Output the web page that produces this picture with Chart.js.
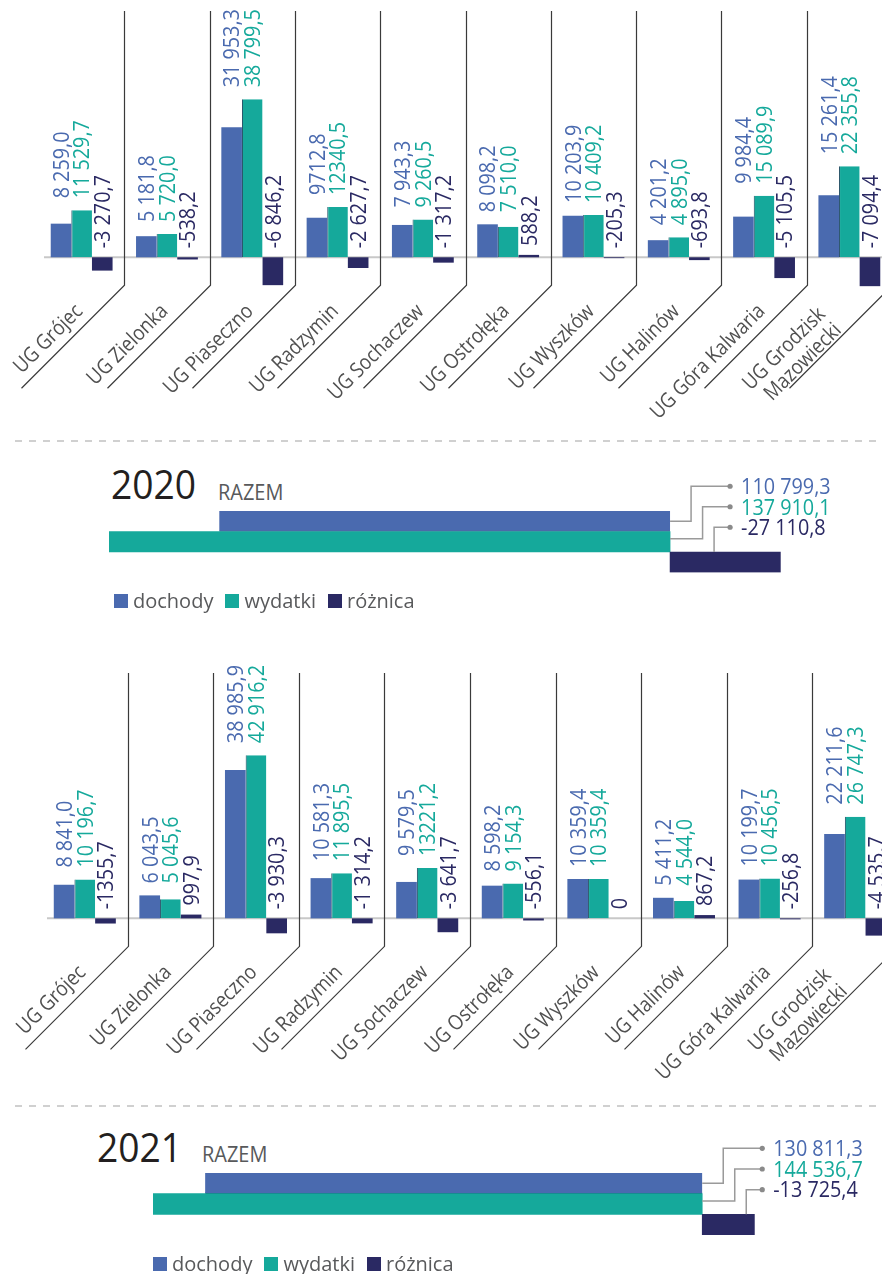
<!DOCTYPE html>
<html lang="pl">
<head>
<meta charset="utf-8">
<title>Dochody i wydatki UG 2020–2021</title>
<script src="https://cdn.jsdelivr.net/npm/chart.js@4.4.1/dist/chart.umd.min.js"></script>
<style>
  html, body { margin: 0; padding: 0; background: #fff; }
  body { width: 882px; height: 1274px; position: relative; overflow: hidden; font-family: "Open Sans", sans-serif; }
  canvas { position: absolute; left: 0; }
  .dash { position: absolute; left: 15px; width: 867px; height: 2px;
          background: repeating-linear-gradient(to right, #d0d0d0 0 7px, transparent 7px 14px); }
  .year { position: absolute; font-size: 40px; line-height: 40px; color: #231f20; transform: scaleX(0.93); transform-origin: left top; }
  .razem { position: absolute; font-size: 21px; line-height: 21px; color: #58595b; transform: scaleX(0.95); transform-origin: left top; }
  .legend { position: absolute; display: flex; align-items: center; font-size: 20px; line-height: 20px; color: #58595b; }
  .legend i { display: inline-block; width: 14px; height: 14px; margin-right: 5px; }
  .legend span { margin-right: 12px; }
</style>
</head>
<body>

<canvas id="cols2020" width="900" height="430" style="top:0"></canvas>
<div class="dash" style="top:440px"></div>
<div class="year" style="left:111px; top:464px">2020</div>
<div class="razem" style="left:218px; top:482px">RAZEM</div>
<canvas id="total2020" width="882" height="150" style="top:450px"></canvas>
<div class="legend" style="left:114px; top:591px">
  <i style="background:#4a6aaf"></i><span>dochody</span>
  <i style="background:#15a99b"></i><span>wydatki</span>
  <i style="background:#2a2963"></i><span>różnica</span>
</div>

<canvas id="cols2021" width="900" height="430" style="top:660px"></canvas>
<div class="dash" style="top:1105px"></div>
<div class="year" style="left:97px; top:1127px">2021</div>
<div class="razem" style="left:202px; top:1144px">RAZEM</div>
<canvas id="total2021" width="882" height="164" style="top:1110px"></canvas>
<div class="legend" style="left:153px; top:1254px">
  <i style="background:#4a6aaf"></i><span>dochody</span>
  <i style="background:#15a99b"></i><span>wydatki</span>
  <i style="background:#2a2963"></i><span>różnica</span>
</div>

<script>
// --- data (as printed in the source, tys. zł) ---
const categories = ['UG Grójec', 'UG Zielonka', 'UG Piaseczno', 'UG Radzymin', 'UG Sochaczew',
  'UG Ostrołęka', 'UG Wyszków', 'UG Halinów', 'UG Góra Kalwaria', ['UG Grodzisk', 'Mazowiecki']];

const dochody2020 = ['8 259,0', '5 181,8', '31 953,3', '9712,8', '7 943,3', '8 098,2', '10 203,9', '4 201,2', '9 984,4', '15 261,4'];
const wydatki2020 = ['11 529,7', '5 720,0', '38 799,5', '12340,5', '9 260,5', '7 510,0', '10 409,2', '4 895,0', '15 089,9', '22 355,8'];
const roznica2020 = ['-3 270,7', '-538,2', '-6 846,2', '-2 627,7', '-1 317,2', '588,2', '-205,3', '-693,8', '-5 105,5', '-7 094,4'];

const dochody2021 = ['8 841,0', '6 043,5', '38 985,9', '10 581,3', '9 579,5', '8 598,2', '10 359,4', '5 411,2', '10 199,7', '22 211,6'];
const wydatki2021 = ['10 196,7', '5 045,6', '42 916,2', '11 895,5', '13221,2', '9 154,3', '10 359,4', '4 544,0', '10 456,5', '26 747,3'];
const roznica2021 = ['-1355,7', '997,9', '-3 930,3', '-1 314,2', '-3 641,7', '-556,1', '0', '867,2', '-256,8', '-4 535,7'];

const razem2020 = ['110 799,3', '137 910,1', '-27 110,8'];  // dochody, wydatki, różnica
const razem2021 = ['130 811,3', '144 536,7', '-13 725,4'];

const COLORS = ['#4a6aaf', '#15a99b', '#2a2963'];
const num = s => parseFloat(s.replace(/\s/g, '').replace(',', '.'));

// rotated, slightly condensed text
function drawText(ctx, text, x, y, angle, align, color, sx) {
  ctx.save();
  ctx.translate(x, y);
  ctx.rotate(angle);
  ctx.scale(sx, 1);
  ctx.textAlign = align;
  ctx.textBaseline = 'alphabetic';
  ctx.fillStyle = color;
  ctx.fillText(text, 0, 0);
  ctx.restore();
}

// zero line, slanted dividers, value labels and category names
const columnDecor = {
  id: 'columnDecor',
  beforeDatasetsDraw(chart) {
    const { ctx, chartArea, scales: { y } } = chart;
    const y0 = y.getPixelForValue(0);
    ctx.save();
    ctx.strokeStyle = '#c8c8c8';
    ctx.lineWidth = 2;
    ctx.beginPath();
    ctx.moveTo(chartArea.left + 5, y0);
    ctx.lineTo(chart.width, y0);
    ctx.stroke();
    ctx.restore();
  },
  afterDatasetsDraw(chart, args, opts) {
    const { ctx, chartArea, scales: { x, y } } = chart;
    const y0 = y.getPixelForValue(0);
    const step = x.width / categories.length;

    ctx.save();
    ctx.strokeStyle = '#3a3a3a';
    ctx.lineWidth = 1.2;
    for (let k = 1; k <= categories.length; k++) {
      const bx = Math.round(x.left + k * step) + 0.5;
      ctx.beginPath();
      ctx.moveTo(bx, chartArea.top - 2);
      ctx.lineTo(bx, y0 + 28);
      ctx.lineTo(bx - 103, y0 + 131);
      ctx.stroke();
    }

    const metas = [0, 1, 2].map(i => chart.getDatasetMeta(i));
    ctx.font = '22px "Open Sans"';
    categories.forEach((cat, i) => {
      const bd = metas[0].data[i], bw = metas[1].data[i], br = metas[2].data[i];
      const top = Math.min(bd.y, bw.y) - 12;
      drawText(ctx, opts.texts[0][i], bd.x + 7.8, top, -Math.PI / 2, 'left', COLORS[0], 0.9);
      drawText(ctx, opts.texts[1][i], bw.x + 7.8, top, -Math.PI / 2, 'left', COLORS[1], 0.9);
      drawText(ctx, opts.texts[2][i], br.x + 7.8, Math.min(br.y, br.base) - 9, -Math.PI / 2, 'left', COLORS[2], 0.9);
    });

    ctx.font = '21px "Open Sans"';
    categories.forEach((cat, i) => {
      const cx = x.getPixelForValue(i);
      if (Array.isArray(cat)) {
        cat.forEach((line, k) => drawText(ctx, line, cx - 23 + 16 * k, y0 + 58 + 16 * k, -Math.PI / 4, 'right', '#505050', 0.88));
      } else {
        drawText(ctx, cat, cx + 2, y0 + 55, -Math.PI / 4, 'right', '#505050', 0.88);
      }
    });
    ctx.restore();
  }
};

function makeColumnChart(id, d, w, r, yMin, yMax, pad) {
  return new Chart(document.getElementById(id), {
    type: 'bar',
    data: {
      labels: categories,
      datasets: [
        { label: 'dochody', data: d.map(num), backgroundColor: COLORS[0] },
        { label: 'wydatki', data: w.map(num), backgroundColor: COLORS[1],
          borderColor: '#1d4a60', borderWidth: { left: 1, top: 0, right: 0, bottom: 0 }, borderSkipped: false },
        { label: 'różnica', data: r.map(num), backgroundColor: COLORS[2] }
      ]
    },
    options: {
      responsive: false,
      animation: false,
      layout: { padding: pad },
      datasets: { bar: { categoryPercentage: 0.725, barPercentage: 1 } },
      plugins: {
        legend: { display: false },
        tooltip: { enabled: false },
        columnDecor: { texts: [d, w, r] }
      },
      scales: {
        x: { display: false },
        y: { display: false, min: yMin, max: yMax }
      }
    },
    plugins: [columnDecor]
  });
}

// connectors with dots and the three totals
const totalLabels = {
  id: 'totalLabels',
  afterDatasetsDraw(chart, args, opts) {
    const { ctx } = chart;
    const bars = chart.getDatasetMeta(0).data;
    const end = bars[0].x;
    const dotX = end + 60;
    ctx.save();
    ctx.strokeStyle = '#9a9a9a';
    ctx.fillStyle = '#8a8a8a';
    ctx.lineWidth = 1.5;
    ctx.font = '22px "Open Sans"';
    bars.forEach((bar, i) => {
      const dotY = bar.y - 35;
      const elbowX = end + 21 + 11.5 * i;
      ctx.beginPath();
      if (i < 2) {
        const sy = bar.y - (i === 1 ? 3 : 0);
        ctx.moveTo(end, sy);
        ctx.lineTo(elbowX, sy);
      } else {
        ctx.moveTo(elbowX, bar.y - bar.height / 2);
      }
      ctx.lineTo(elbowX, dotY);
      ctx.lineTo(dotX, dotY);
      ctx.stroke();
      ctx.beginPath();
      ctx.arc(dotX, dotY, 2.6, 0, Math.PI * 2);
      ctx.fill();
      drawText(ctx, opts.texts[i], dotX + 11, dotY + 7.8, 0, 'left', COLORS[i], 0.9);
    });
    ctx.restore();
  }
};

function makeTotalChart(id, totals, pad, xMax) {
  const [d, w, r] = totals.map(num);
  return new Chart(document.getElementById(id), {
    type: 'bar',
    data: {
      labels: ['dochody', 'wydatki', 'różnica'],
      datasets: [{
        data: [[w - d, w], [0, w], [w, w - r]],
        backgroundColor: COLORS,
        borderColor: ['#1f3a72', COLORS[1], COLORS[2]],
        borderWidth: [{ bottom: 1, top: 0, left: 0, right: 0 }, 0, 0],
        borderSkipped: false
      }]
    },
    options: {
      indexAxis: 'y',
      responsive: false,
      animation: false,
      layout: { padding: pad },
      datasets: { bar: { categoryPercentage: 1, barPercentage: 1 } },
      plugins: {
        legend: { display: false },
        tooltip: { enabled: false },
        totalLabels: { texts: totals }
      },
      scales: {
        x: { display: false, min: 0, max: xMax },
        y: { display: false }
      }
    },
    plugins: [totalLabels]
  });
}

makeColumnChart('cols2020', dochody2020, wydatki2020, roznica2020, -10000, 60000,
  { left: 39, right: 8, top: 13, bottom: 132 });
makeColumnChart('cols2021', dochody2021, wydatki2021, roznica2021, -12000, 64000,
  { left: 42, right: 2, top: 15, bottom: 126 });

makeTotalChart('total2020', razem2020, { left: 109, right: 0, top: 61, bottom: 27.5 }, 190000);
makeTotalChart('total2021', razem2021, { left: 153, right: 7, top: 63, bottom: 39 }, 190000);
</script>
</body>
</html>
